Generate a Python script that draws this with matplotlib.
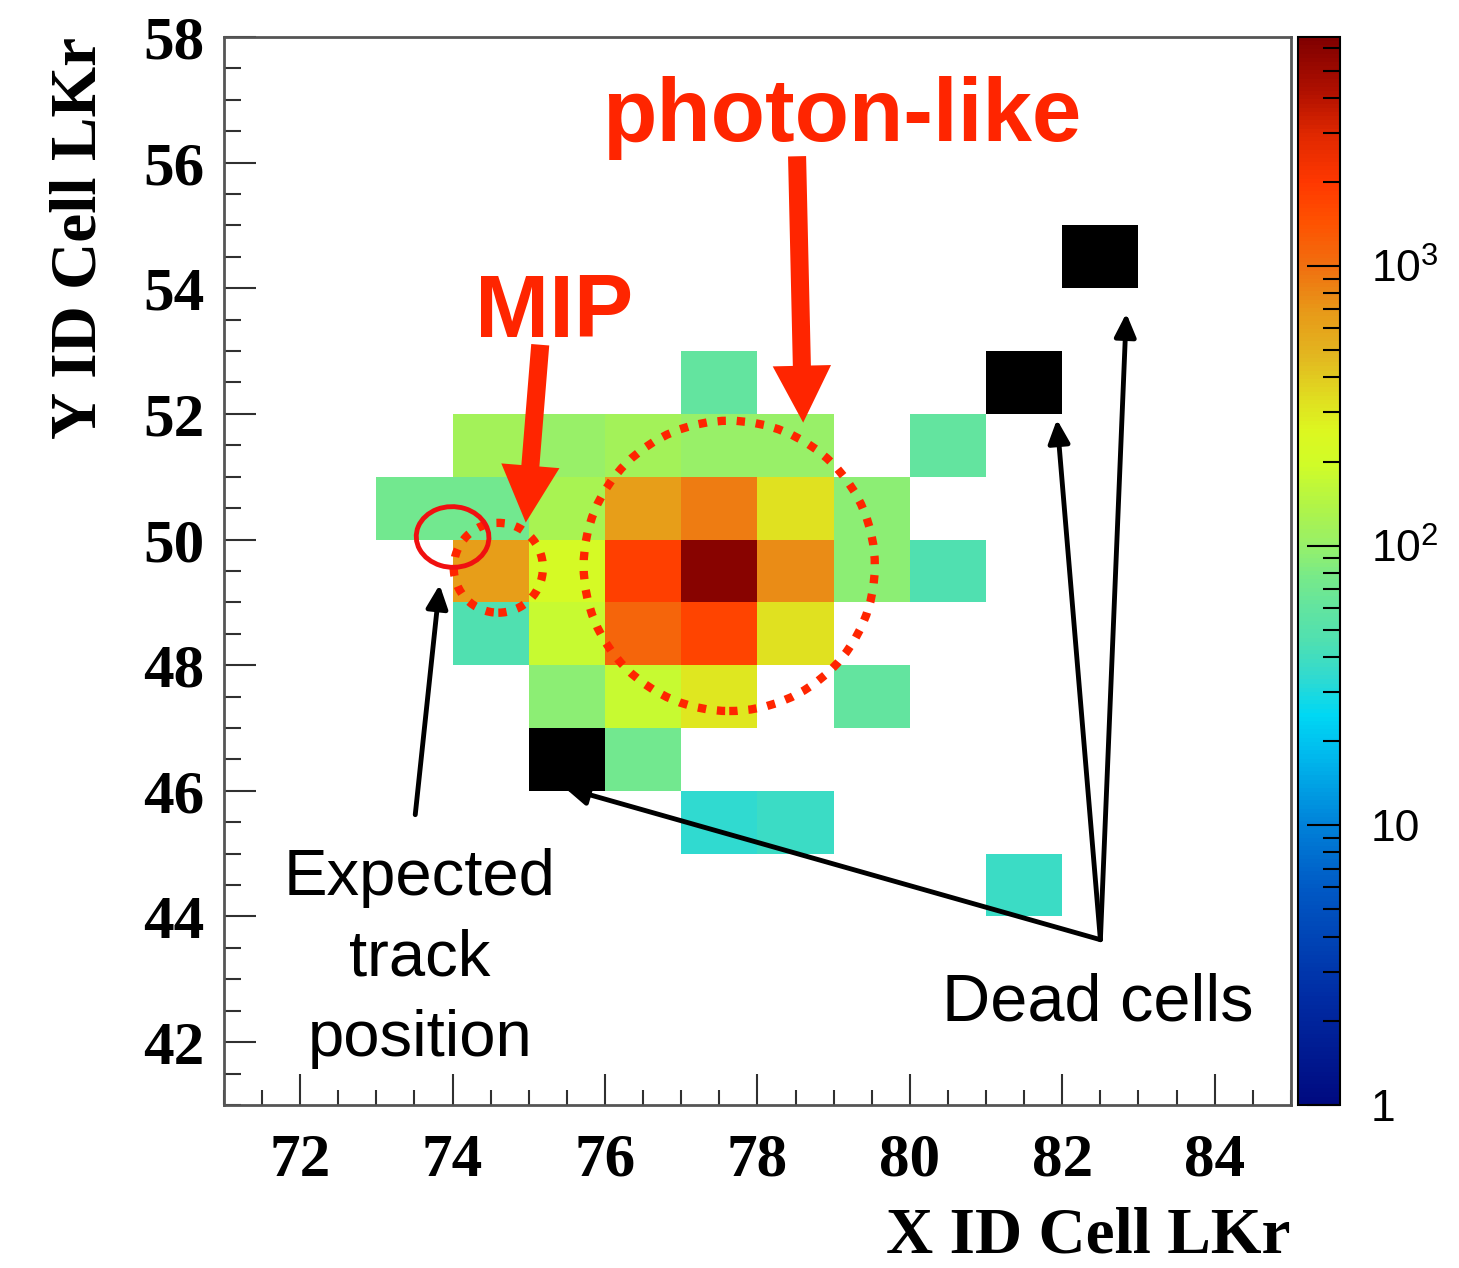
# LKr cluster map: hit cells around the expected track, MIP and photon-like deposits
import numpy as np
import matplotlib
matplotlib.use("Agg")
from matplotlib import pyplot as plt
from matplotlib.colors import LinearSegmentedColormap, ListedColormap, LogNorm
from matplotlib.patches import Ellipse
from matplotlib.ticker import MultipleLocator, LogLocator, NullFormatter

plt.rcParams["font.family"] = "Liberation Serif"
plt.rcParams["font.weight"] = "bold"

# cell contents (x id, y id, counts)
cell_x = [77,
          74, 75, 76, 77, 78, 80,
          73, 74, 75, 76, 77, 78, 79,
          74, 75, 76, 77, 78, 79, 80,
          74, 75, 76, 77, 78,
          75, 76, 77, 79,
          76,
          77, 78,
          81]
cell_y = [52,
          51, 51, 51, 51, 51, 51,
          50, 50, 50, 50, 50, 50, 50,
          49, 49, 49, 49, 49, 49, 49,
          48, 48, 48, 48, 48,
          47, 47, 47, 47,
          46,
          45, 45,
          44]
cell_counts = [60,
               115, 100, 115, 100, 100, 60,
               72, 72, 126, 640, 870, 330, 92,
               640, 215, 1840, 6000, 760, 92, 46,
               46, 178, 1130, 1680, 330,
               92, 178, 305, 60,
               72,
               34, 38,
               38]

dead_x = [75, 81, 82]
dead_y = [46, 52, 54]

x_edges = np.arange(71, 86)
y_edges = np.arange(41, 59)
z_min, z_max = 1, 6600

# palette sampled along the colour bar
pal_pos = [0.0, 0.1, 0.2, 0.26, 0.33, 0.365, 0.4, 0.435, 0.465, 0.495, 0.525,
           0.56, 0.6, 0.63, 0.66, 0.7, 0.745, 0.785, 0.83, 0.865, 0.91, 0.95, 1.0]
pal_col = ["#000a80", "#002ca4", "#0058c4", "#0080d8", "#00bcee", "#00d8f4",
           "#30dad0", "#50e0b0", "#62e4a0", "#78ea88", "#98f068", "#b0f448",
           "#d0fc28", "#dcf820", "#e0e020", "#e2b820", "#e89818", "#f07010",
           "#ff5000", "#ff3800", "#e02800", "#b01000", "#800000"]
cmap = LinearSegmentedColormap.from_list("lkr", list(zip(pal_pos, pal_col)))

red = "#ff2500"

counts = np.full((len(y_edges) - 1, len(x_edges) - 1), np.nan)
for x, y, c in zip(cell_x, cell_y, cell_counts):
    counts[y - 41, x - 71] = c
dead = np.full_like(counts, np.nan)
for x, y in zip(dead_x, dead_y):
    dead[y - 41, x - 71] = 1

fig = plt.figure(figsize=(14.59, 12.68), dpi=100)
ax = fig.add_axes([0.1535, 0.1286, 0.7313, 0.8423])
cax = fig.add_axes([0.8897, 0.1286, 0.0288, 0.8423])

mesh = ax.pcolormesh(x_edges, y_edges, np.ma.masked_invalid(counts), cmap=cmap,
                     norm=LogNorm(z_min, z_max))
ax.pcolormesh(x_edges, y_edges, np.ma.masked_invalid(dead), cmap=ListedColormap(["black"]))

ax.set_xlim(71, 85)
ax.set_ylim(41, 58)
ax.xaxis.set_major_locator(MultipleLocator(2))
ax.xaxis.set_minor_locator(MultipleLocator(0.5))
ax.yaxis.set_major_locator(MultipleLocator(2))
ax.yaxis.set_minor_locator(MultipleLocator(0.5))
ax.tick_params(which="both", direction="in", top=False, right=False,
               color="#303030", width=1.5, labelsize=44)
ax.tick_params(axis="x", which="major", length=22, pad=20)
ax.tick_params(axis="x", which="minor", length=11)
ax.tick_params(axis="y", which="major", length=23, pad=14)
ax.tick_params(axis="y", which="minor", length=12)
for sp in ax.spines.values():
    sp.set_color("#555555")
    sp.set_linewidth(2)

ax.set_xlabel("X ID Cell LKr", loc="right", fontsize=47, fontweight="bold", labelpad=13)
ax.set_ylabel("Y ID Cell LKr", loc="top", fontsize=47, fontweight="bold", labelpad=24)

# colour bar
cb = fig.colorbar(mesh, cax=cax)
cb.outline.set_linewidth(1.5)
cax.set_yticks([1, 10, 100, 1000],
               labels=["1", "10", r"$\mathregular{10^{2}}$", r"$\mathregular{10^{3}}$"])
cax.yaxis.set_minor_locator(LogLocator(base=10, subs=np.arange(2, 10)))
cax.yaxis.set_minor_formatter(NullFormatter())
cax.tick_params(which="both", direction="in", right=True, left=False, width=1.5, color="black")
cax.tick_params(which="major", length=24, pad=22)
cax.tick_params(which="minor", length=12)
for t in cax.get_yticklabels():
    t.set_fontfamily("Liberation Sans")
    t.set_fontweight("normal")
    t.set_fontsize(32)

# annotations
sans = "Liberation Sans"
ax.text(79.11, 56.35, "photon-like", color=red, fontsize=64, fontweight="bold",
        family=sans, ha="center", va="baseline")
ax.text(75.33, 53.23, "MIP", color=red, fontsize=64, fontweight="bold",
        family=sans, ha="center", va="baseline")
big_arrow = dict(arrowstyle="simple,head_length=41,head_width=42,tail_width=13",
                 mutation_scale=1, color=red, lw=0, shrinkA=0, shrinkB=0)
ax.annotate("", xy=(74.96, 50.27), xytext=(75.15, 53.10), arrowprops=big_arrow)
ax.annotate("", xy=(78.60, 51.86), xytext=(78.52, 56.10), arrowprops=big_arrow)

ax.add_patch(Ellipse((77.63, 49.58), 3.82, 4.62, fill=False, ec=red, lw=6,
                     ls=(0, (1.0, 1.3))))
ax.add_patch(Ellipse((74.60, 49.55), 1.17, 1.43, fill=False, ec=red, lw=6,
                     ls=(0, (1.0, 1.3))))
ax.add_patch(Ellipse((74.0, 50.04), 0.95, 0.97, angle=25, fill=False,
                     ec="#f01010", lw=3.5))

thin_arrow = dict(arrowstyle="-|>,head_length=14,head_width=6.5", mutation_scale=1,
                  lw=3.5, color="black", shrinkA=0, shrinkB=0)
ax.annotate("", xy=(73.83, 49.28), xytext=(73.51, 45.62), arrowprops=thin_arrow)
ax.text(73.57, 45.09, "Expected\ntrack\nposition", fontsize=47, fontweight="normal",
        family=sans, ha="center", va="top", multialignment="center", linespacing=1.44)

origin = (82.5, 43.63)
for tip in [(75.47, 46.05), (81.93, 51.91), (82.84, 53.6)]:
    ax.annotate("", xy=tip, xytext=origin, arrowprops=thin_arrow)
ax.text(82.47, 42.35, "Dead cells", fontsize=48, fontweight="normal",
        family=sans, ha="center", va="baseline")

fig.savefig("out.png", dpi=100)
